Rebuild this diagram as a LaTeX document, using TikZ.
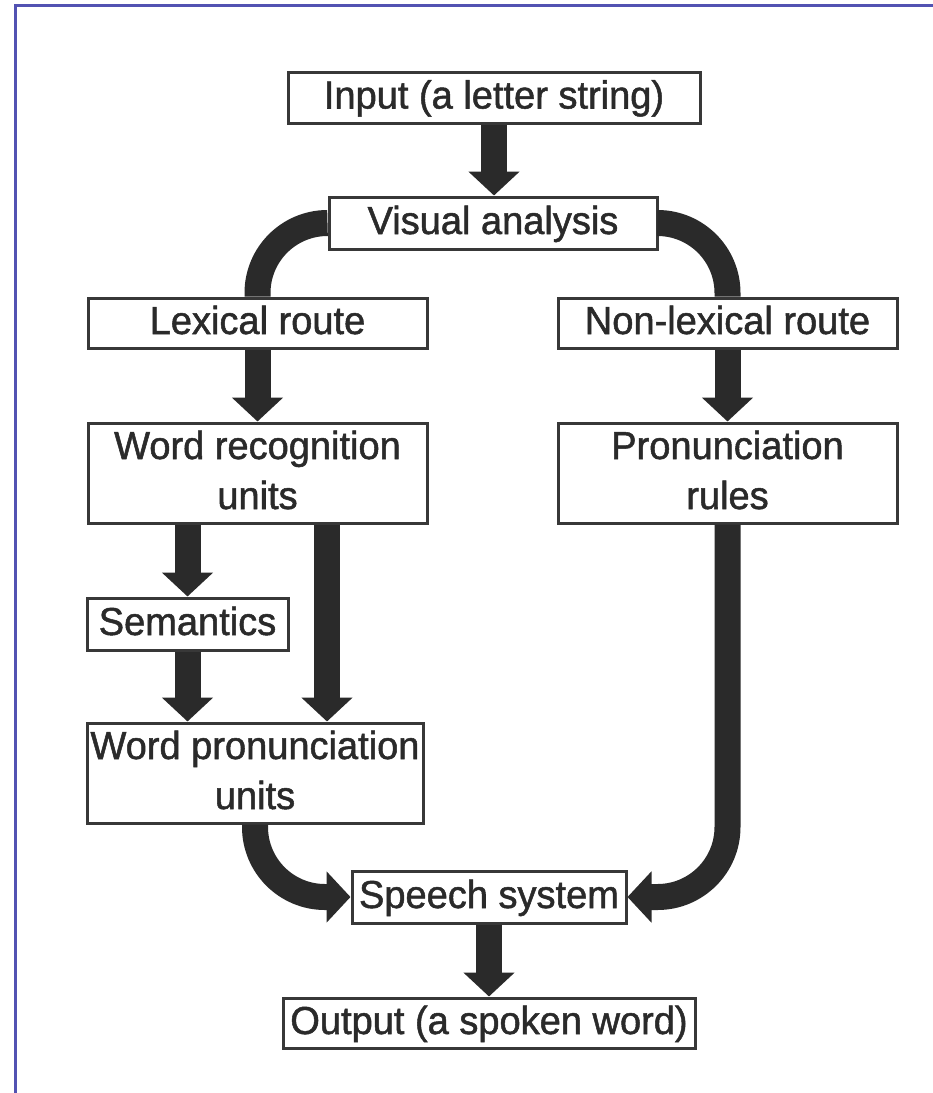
\documentclass[tikz,border=0pt]{standalone}
\usepackage{fontspec}
\setmainfont{Liberation Sans}[FakeStretch=0.975,FakeBold=1.3]
\usetikzlibrary{arrows.meta}
\definecolor{inkdark}{HTML}{2A2A2A}
\definecolor{boxline}{HTML}{383838}
\definecolor{framebl}{HTML}{5252B2}
\begin{document}
\begin{tikzpicture}[x=1pt,y=-1pt,
  box/.style={draw=boxline, line width=3pt, fill=white, inner sep=0pt,
    text=inkdark, font=\fontsize{39}{50}\selectfont, align=center,
    text height=28pt, text depth=6pt},
  twoline/.style={box, text height=78pt},
  flow/.style={draw=inkdark, line width=26pt, line cap=butt,
    -{Triangle[width=50pt,length=24pt]}},
  band/.style={draw=inkdark, line width=26pt, line cap=butt, rounded corners=70pt},
  bendarrow/.style={flow, rounded corners=70pt}]
% page frame and margins
\useasboundingbox (0,0) rectangle (933,1093);
\fill[white] (0,0) rectangle (933,1093);
\draw[framebl, line width=3pt] (15,1093) -- (15,5.5) -- (933,5.5);

% boxes
\node[box, minimum width=412pt, minimum height=51pt] (in)  at (494,97.5) {Input (a letter string)};
\node[box, minimum width=328pt, minimum height=52pt] (va)  at (493,223) {Visual analysis};
\node[box, minimum width=339pt, minimum height=50pt] (lex) at (257.5,323) {Lexical route};
\node[box, minimum width=339pt, minimum height=50pt] (nlx) at (727.5,323) {Non-lexical route};
\node[twoline, minimum width=339pt, minimum height=100pt] (wr) at (257.5,473) {Word recognition\\units};
\node[twoline, minimum width=339pt, minimum height=100pt] (pr) at (727.5,473) {Pronunciation\\rules};
\node[box, minimum width=201pt, minimum height=52pt] (sem) at (187.5,624) {Semantics};
\node[twoline, minimum width=336pt, minimum height=100pt] (wp) at (255,773) {Word pronunciation\\units};
\node[box, minimum width=274pt, minimum height=52pt] (sp)  at (489,897) {Speech system};
\node[box, minimum width=412pt, minimum height=50pt] (out) at (489,1023) {Output (a spoken word)};

% connectors
\draw[flow] (in.south) -- (in.south |- va.north);
\draw[band] (va.west) -| (lex.north);
\draw[band] (va.east) -| (nlx.north);
\draw[flow] (lex.south) -- (wr.north);
\draw[flow] (nlx.south) -- (pr.north);
\draw[flow] (sem.north |- wr.south) -- (sem.north);
\draw[flow] (sem.south) -- (sem.south |- wp.north);
\draw[flow] ([xshift=69.5pt]wr.south) -- ([xshift=69.5pt]wr.south |- wp.north);
\draw[bendarrow] (wp.south) |- (sp.west);
\draw[bendarrow] (pr.south) |- (sp.east);
\draw[flow] (sp.south) -- (sp.south |- out.north);
\end{tikzpicture}
\end{document}
